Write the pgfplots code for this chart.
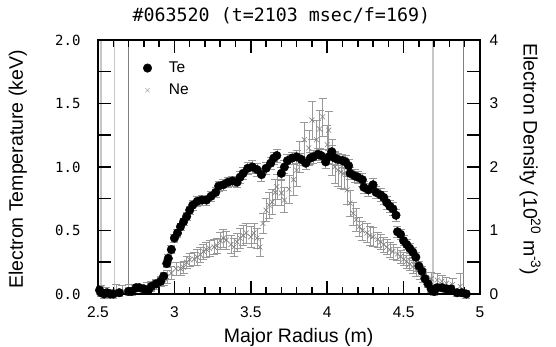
\documentclass[border=0pt]{standalone}
\usepackage{fontspec}
\setmainfont{Liberation Sans}
\newfontfamily\monofont{DejaVu Sans Mono}
\usepackage{pgfplots}
\usepackage{pgfplotstable}
\pgfplotsset{compat=1.18}

\pgfplotstableread{
x y e
2.51 0.03 0.03
2.52 0.01 0.03
2.54 0.00 0.03
2.56 0.01 0.03
2.58 0.00 0.03
2.60 0.00 0.03
2.64 0.01 0.03
2.70 0.02 0.03
2.72 0.02 0.03
2.75 0.05 0.03
2.77 0.05 0.03
2.80 0.04 0.03
2.83 0.03 0.03
2.85 0.06 0.03
2.88 0.08 0.03
2.91 0.10 0.03
2.93 0.14 0.03
2.95 0.24 0.03
2.96 0.28 0.03
2.98 0.35 0.03
3.00 0.44 0.03
3.02 0.48 0.03
3.04 0.53 0.03
3.06 0.57 0.03
3.08 0.61 0.03
3.10 0.66 0.03
3.12 0.70 0.04
3.15 0.73 0.04
3.18 0.74 0.04
3.21 0.74 0.04
3.24 0.77 0.04
3.27 0.80 0.04
3.29 0.85 0.04
3.32 0.86 0.04
3.35 0.88 0.04
3.38 0.89 0.04
3.41 0.88 0.04
3.43 0.92 0.05
3.45 0.95 0.05
3.48 0.99 0.05
3.51 1.00 0.05
3.54 0.98 0.05
3.57 0.94 0.05
3.60 0.99 0.05
3.63 1.03 0.05
3.65 1.07 0.05
3.67 1.09 0.05
3.70 0.95 0.05
3.72 1.00 0.05
3.74 1.05 0.05
3.77 1.07 0.05
3.80 1.08 0.05
3.83 1.06 0.05
3.86 1.03 0.05
3.89 1.07 0.05
3.91 1.08 0.05
3.94 1.10 0.05
3.96 1.09 0.05
3.99 1.04 0.05
4.01 1.08 0.05
4.03 1.12 0.05
4.05 1.07 0.05
4.07 1.06 0.05
4.10 1.05 0.05
4.12 1.04 0.05
4.14 1.01 0.05
4.15 0.95 0.05
4.18 0.93 0.05
4.20 0.92 0.05
4.23 0.90 0.05
4.24 0.84 0.05
4.27 0.82 0.05
4.30 0.86 0.05
4.32 0.80 0.05
4.35 0.78 0.05
4.37 0.76 0.05
4.39 0.72 0.05
4.41 0.69 0.05
4.43 0.67 0.05
4.45 0.62 0.05
4.46 0.49 0.04
4.48 0.47 0.04
4.50 0.42 0.04
4.52 0.39 0.04
4.54 0.36 0.04
4.56 0.33 0.04
4.58 0.29 0.04
4.60 0.22 0.04
4.62 0.18 0.04
4.64 0.12 0.03
4.66 0.08 0.03
4.68 0.04 0.03
4.70 0.02 0.03
4.72 0.05 0.03
4.75 0.05 0.03
4.78 0.04 0.03
4.81 0.04 0.03
4.85 0.01 0.03
4.88 0.01 0.03
4.91 0.00 0.03
}\tedata

\pgfplotstableread{
x y e
2.52 0.05 0.08
2.55 0.03 0.08
2.58 0.02 0.06
2.62 0.05 0.10
2.66 0.04 0.10
2.70 0.06 0.10
2.74 0.05 0.08
2.78 0.08 0.08
2.82 0.10 0.08
2.85 0.12 0.08
2.88 0.16 0.08
2.91 0.20 0.08
2.93 0.22 0.08
2.95 0.27 0.10
2.98 0.33 0.10
3.01 0.40 0.10
3.04 0.40 0.10
3.06 0.42 0.10
3.08 0.50 0.10
3.10 0.54 0.10
3.13 0.55 0.10
3.15 0.58 0.12
3.17 0.62 0.12
3.19 0.67 0.12
3.21 0.70 0.12
3.23 0.72 0.12
3.26 0.74 0.12
3.28 0.76 0.12
3.30 0.84 0.14
3.32 0.88 0.14
3.34 0.85 0.14
3.37 0.78 0.14
3.39 0.74 0.14
3.41 0.82 0.14
3.43 0.88 0.16
3.45 0.92 0.16
3.47 0.96 0.16
3.50 0.90 0.16
3.52 0.96 0.16
3.54 0.88 0.16
3.56 0.74 0.14
3.58 1.11 0.16
3.60 1.32 0.18
3.62 1.40 0.20
3.64 1.45 0.20
3.66 1.60 0.20
3.67 1.69 0.20
3.70 1.59 0.20
3.72 1.48 0.20
3.75 1.65 0.22
3.78 1.80 0.25
3.80 1.95 0.25
3.82 2.16 0.25
3.85 2.43 0.28
3.88 2.30 0.28
3.90 2.74 0.30
3.93 2.43 0.30
3.95 2.60 0.30
3.97 2.79 0.30
4.00 2.35 0.30
4.01 2.58 0.30
4.03 2.15 0.28
4.05 2.00 0.25
4.07 1.95 0.25
4.09 1.92 0.25
4.11 1.90 0.25
4.13 1.64 0.22
4.15 1.43 0.20
4.17 1.27 0.18
4.19 1.17 0.18
4.21 1.06 0.15
4.23 1.00 0.15
4.26 0.96 0.15
4.28 0.92 0.15
4.30 0.90 0.15
4.33 0.86 0.12
4.35 0.82 0.12
4.37 0.78 0.12
4.39 0.74 0.12
4.41 0.70 0.12
4.43 0.67 0.12
4.46 0.63 0.10
4.48 0.59 0.10
4.50 0.55 0.10
4.52 0.51 0.10
4.54 0.47 0.10
4.56 0.43 0.10
4.58 0.38 0.10
4.61 0.33 0.10
4.63 0.29 0.10
4.65 0.25 0.10
4.68 0.24 0.10
4.72 0.22 0.10
4.75 0.20 0.10
4.78 0.17 0.10
4.82 0.15 0.10
4.87 0.12 0.20
}\nedata

\begin{document}
\begin{tikzpicture}
% Ne axis (right labels and density data)
\begin{axis}[
  at={(98pt,53pt)}, anchor=south west,
  scale only axis, width=382pt, height=254pt,
  xmin=2.5, xmax=5, ymin=0, ymax=4,
  xtick=\empty,
  axis line style={draw=none},
  ytick={0,1,2,3,4}, ytick pos=right, yticklabel pos=right,
  major tick length=0pt,
  /pgf/number format/assume math mode=true,
  yticklabel style={font=\fontsize{15.5}{18}\selectfont, xshift=6pt},
  ylabel={Electron Density (10\textsuperscript{20} m\textsuperscript{-3})},
  ylabel style={at={(axis description cs:1.131,0.53)}, anchor=center, rotate=180, font=\fontsize{19.5}{22}\selectfont},
]
\addplot[gray!45, line width=1.5pt] coordinates {(2.52,0) (2.52,4)};
\addplot[gray!45, line width=1pt] coordinates {(2.605,0) (2.605,4)};
\addplot[gray, line width=0.6pt] coordinates {(2.70,0) (2.70,4)};
\addplot[gray!45, line width=2pt] coordinates {(4.69,0) (4.69,4)};
\addplot[gray, line width=0.6pt] coordinates {(4.89,0) (4.89,4)};
\addplot[only marks, mark=x, mark size=3.5pt, gray, mark options={line width=0.6pt},
  error bars/.cd, y dir=both, y explicit,
  error bar style={gray!80, line width=0.5pt},
  error mark options={rotate=90, mark size=4pt, gray!80, line width=0.5pt}]
  table[x=x, y=y, y error=e] {\nedata};
\end{axis}
% Te axis (left labels, title, legend and temperature data)
\begin{axis}[
  at={(98pt,53pt)}, anchor=south west,
  scale only axis, width=382pt, height=254pt,
  xmin=2.5, xmax=5, ymin=0, ymax=2,
  clip=false,
  axis line style={line width=2pt, black},
  major tick length=0pt, minor tick length=0pt,
  xtick={2.5,3,3.5,4,4.5,5},
  xticklabels={2.5,3,3.5,4,4.5,5},
  ytick={0,0.5,1,1.5,2},
  yticklabels={0.0,0.5,1.0,1.5,2.0},
  xticklabel style={font=\fontsize{15.5}{18}\selectfont, yshift=-9pt},
  yticklabel style={font=\monofont\fontsize{14}{16}\selectfont, xshift=-14pt},
  xlabel={Major Radius (m)},
  xlabel style={at={(axis description cs:0.525,-0.172)}, anchor=center, font=\fontsize{19.5}{22}\selectfont},
  ylabel={Electron Temperature (keV)},
  ylabel style={at={(axis description cs:-0.21,0.49)}, anchor=center, font=\fontsize{19.5}{22}\selectfont},
  title={\#063520 (t=2103 msec/f=169)},
  title style={at={(axis description cs:0.48,1.07)}, anchor=center, font=\monofont\fontsize{18.3}{20}\selectfont},
  legend style={at={(axis description cs:0.11,0.93)}, anchor=north west, draw=white, fill=none,
    font=\fontsize{15.5}{18}\selectfont, row sep=6pt},
  legend cell align=left,
]
\addplot[only marks, mark=*, mark size=4.3pt, black,
  error bars/.cd, y dir=both, y explicit,
  error bar style={gray!80, line width=0.5pt},
  error mark options={rotate=90, mark size=4pt, gray!80, line width=0.5pt}]
  table[x=x, y=y, y error=e] {\tedata};
\addlegendentry{\hspace{15pt}Te}
\addlegendimage{only marks, mark=x, mark size=3pt, gray!70, mark options={line width=0.6pt}}
\addlegendentry{\hspace{15pt}Ne}
\end{axis}
% frame axis: box and inward ticks on all four sides, drawn on top
\begin{axis}[
  at={(98pt,53pt)}, anchor=south west,
  scale only axis, width=382pt, height=254pt,
  xmin=2.5, xmax=5, ymin=0, ymax=2,
  axis line style={line width=2pt, black},
  major tick length=13pt, minor tick length=7pt,
  tick style={line width=1.5pt, black},
  xtick={2.5,3,3.5,4,4.5,5}, minor x tick num=4,
  ytick={0,0.25,0.5,0.75,1,1.25,1.5,1.75,2},
  xticklabels={}, yticklabels={},
]
\addplot[draw=none] coordinates {(2.5,0) (5,2)};
\end{axis}
\pgfresetboundingbox
\path[use as bounding box] (0pt,0pt) rectangle (556pt,347pt);
\end{tikzpicture}
\end{document}
